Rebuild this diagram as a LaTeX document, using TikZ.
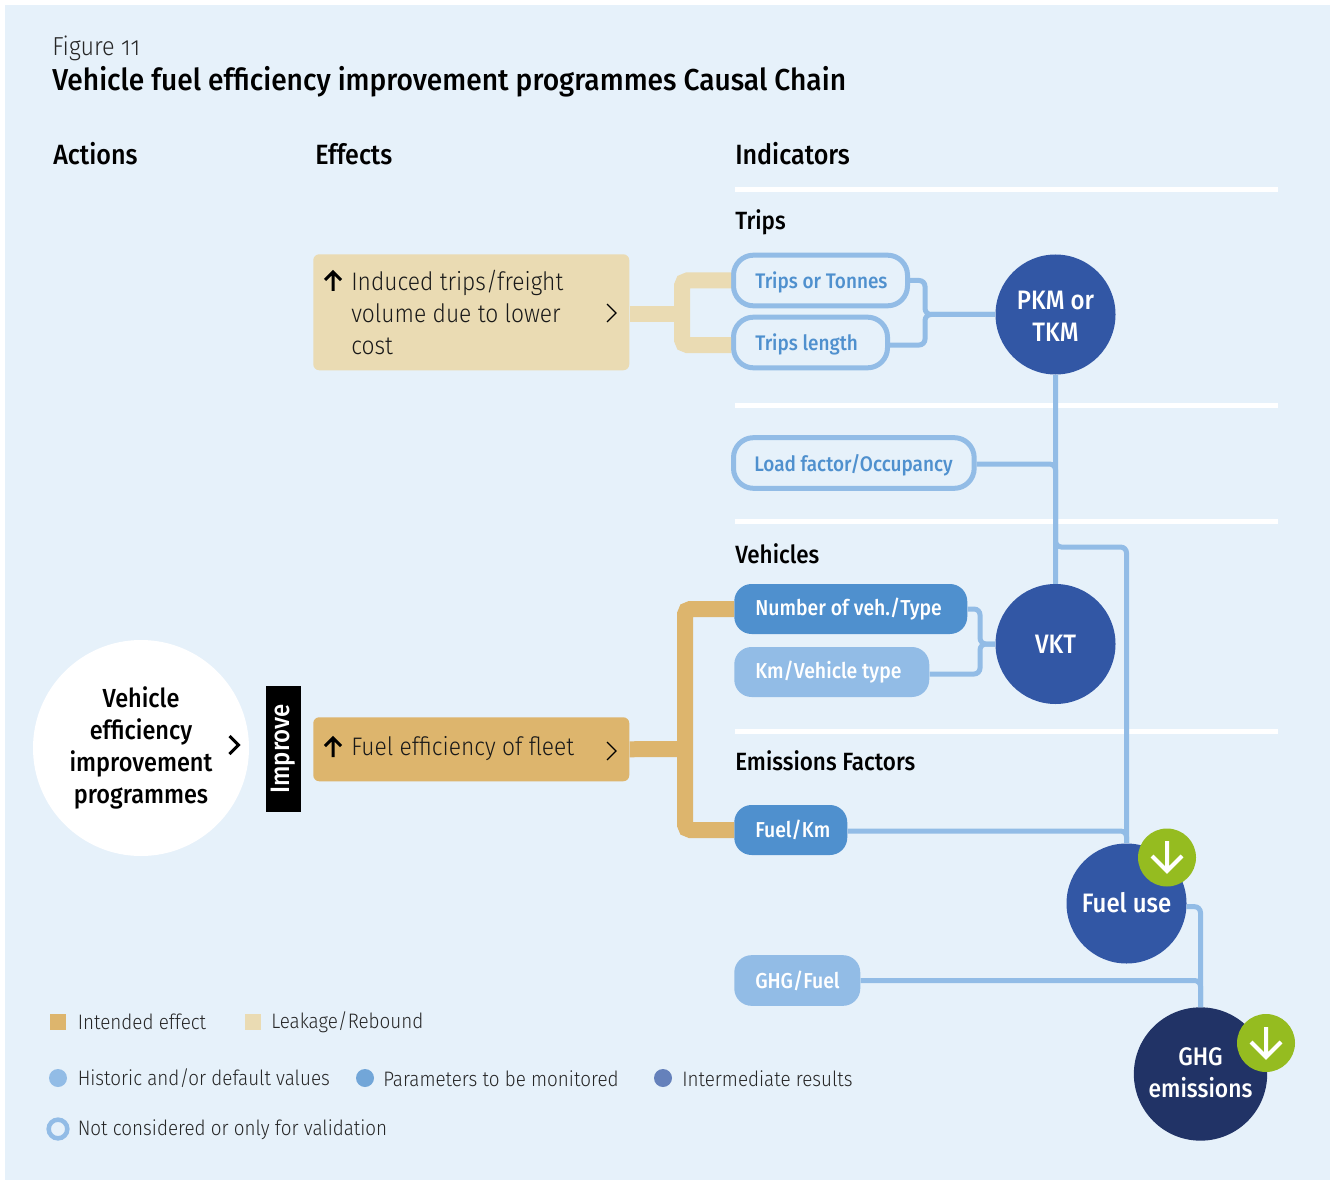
\documentclass[tikz,border=0pt]{standalone}
\usepackage{fontspec}
\setmainfont[FakeStretch=0.9,BoldFont={Fira Sans Medium}]{Fira Sans Light}
\newfontfamily\medf[FakeStretch=0.9]{Fira Sans Medium}
\newfontfamily\titlef[FakeStretch=0.93]{Fira Sans Medium}
\definecolor{bgc}{HTML}{E6F1FA}
\definecolor{lb}{HTML}{92BCE6}
\definecolor{mb}{HTML}{4F90CE}
\definecolor{db}{HTML}{3257A5}
\definecolor{nb}{HTML}{213366}
\definecolor{gold}{HTML}{DDB56D}
\definecolor{sand}{HTML}{EADBB3}
\definecolor{grn}{HTML}{95BC20}
\tikzset{
 x=0.75pt,y=-0.75pt,
 lbl/.style={anchor=west,inner sep=0,font=\medf\fontsize{18.7}{22}\selectfont,text=black},
 head/.style={anchor=west,inner sep=0,font=\medf\fontsize{20.9}{25}\selectfont,text=black},
 leg/.style={anchor=west,inner sep=0,font=\fontsize{15.7}{19}\selectfont,text=black!85},
 wline/.style={white,line width=3.75pt},
 pill/.style={draw=lb,line width=3.75pt,fill=bgc,rounded corners=15pt,anchor=west,inner sep=0},
 pilltext/.style={anchor=west,inner sep=0,text=mb,font=\medf\fontsize{15.8}{18}\selectfont},
 solidtext/.style={anchor=west,inner sep=0,text=white,font=\medf\fontsize{16.2}{18}\selectfont},
 solidm/.style={fill=mb,rounded corners=13pt,inner sep=0,anchor=west},
 solidl/.style={fill=lb,rounded corners=13pt,inner sep=0,anchor=west},
 effect/.style={rounded corners=4.5pt,inner sep=0},
 circ/.style={circle,inner sep=0,minimum size=90pt,fill=db},
 circtext/.style={inner sep=0,text=white,align=center,font=\medf\fontsize{20}{24}\selectfont},
 conn/.style={draw=lb,line width=3.75pt,rounded corners=4.5pt},
 band/.style={line width=12pt,rounded corners=4pt},
 badge/.style={circle,fill=grn,inner sep=0,minimum size=43.5pt},
 efftext/.style={anchor=west,inner sep=0,align=left,font=\fontsize{19}{24}\selectfont,text=black!90},
 chev/.style={draw=black,line width=1pt,line join=miter},
 upar/.style={draw=black,line width=2.25pt},
 downar/.style={draw=white,line width=3pt},
}
\begin{document}
\begin{tikzpicture}
\useasboundingbox (0,0) rectangle (1330,1180);
\fill[white] (0,0) rectangle (1330,1180);
\fill[bgc] (5,5) rectangle (1330,1180);
% texts
\node[anchor=west,inner sep=0,font=\fontsize{19.5}{22}\selectfont\addfontfeatures{Numbers=OldStyle},text=black!85] (figno) at (52,48) {Figure 11};
\node[anchor=west,inner sep=0,font=\titlef\fontsize{22.7}{26}\selectfont] (title) at (52,81.5) {Vehicle fuel efficiency improvement programmes Causal Chain};
\node[head] (actions) at (53,154) {Actions};
\node[head] (effects) at (315,154) {Effects};
\node[head] (indic) at (735,154) {Indicators};
\node[lbl] (trips) at (735,222) {Trips};
\node[lbl] (vehs) at (735,554) {Vehicles};
\node[lbl] (emis) at (735,761) {Emissions Factors};
% separators
\draw[wline] (735,190) -- (1278,190);
\draw[wline] (735,405) -- (1278,405);
\draw[wline] (735,521) -- (1278,521);
\draw[wline] (735,731) -- (1278,731);
% action
\node[circle,fill=white,minimum size=162pt,inner sep=0,align=center,font=\medf\fontsize{19.6}{24}\selectfont] (act) at (141,748) {Vehicle\\efficiency\\improvement\\programmes};
\draw[black,line width=2.25pt] (229.5,736) -- (238.5,745) -- (229.5,754);
\node[fill=black,text=white,rotate=90,minimum width=94.5pt,minimum height=26.25pt,inner sep=0,font=\medf\fontsize{20}{22}\selectfont] (imp) at (283.5,749) {Improve};
% effects
\node[effect,fill=sand,anchor=north west,minimum width=237pt,minimum height=87pt] (ind) at (313,254) {};
\node[effect,fill=gold,anchor=north west,minimum width=237pt,minimum height=48pt] (fe) at (313,717) {};
\node[efftext] (indt) at (351,312.5) {Induced trips/freight\\volume due to lower\\cost};
\node[efftext] (fet) at (351,748.5) {Fuel efficiency of fleet};
\draw[upar] (333,291) -- (333,272) (325,280) -- (333,272) -- (341,280);
\draw[upar] (333,757) -- (333,738) (325,746) -- (333,738) -- (341,746);
\draw[chev] (607,304) -- (616,313) -- (607,322);
\draw[chev] (607,742) -- (616,751) -- (607,760);
% indicators
\node[pill,minimum width=130.5pt,minimum height=38pt] (tt) at (731,280.5) {};
\node[pill,minimum width=115.5pt,minimum height=38pt] (tl) at (731,342.5) {};
\node[pill,minimum width=180.5pt,minimum height=38pt] (lf) at (731,463) {};
\node[pilltext] (ttt) at (755,282) {Trips or Tonnes};
\node[pilltext] (tlt) at (755,344) {Trips length};
\node[pilltext] (lft) at (754,465) {Load factor/Occupancy};
\node[solidm,minimum width=174.75pt,minimum height=37.5pt] (nv) at (734,609) {};
\node[solidl,minimum width=146.25pt,minimum height=37.5pt] (km) at (734,672) {};
\node[solidm,minimum width=84.75pt,minimum height=37.5pt] (fk) at (734,830) {};
\node[solidl,minimum width=94.5pt,minimum height=38pt] (gf) at (734,980.5) {};
\node[solidtext] (nvt) at (755,609) {Number of veh./Type};
\node[solidtext] (kmt) at (755,672) {Km/Vehicle type};
\node[solidtext] (fkt) at (755,829.5) {Fuel/Km};
\node[solidtext] (gft) at (755,980.5) {GHG/Fuel};
\node[circ] (pkm) at (1055.5,314.5) {};
\node[circ] (vkt) at (1055.5,644) {};
\node[circ] (fuel) at (1126.5,903.5) {};
\node[circ,fill=nb,minimum size=100pt] (ghg) at (1200.5,1074) {};
\node[circtext] (pkmt) at (1055.5,316.5) {PKM or\\TKM};
\node[circtext] (vktt) at (1055.5,644) {VKT};
\node[circtext] (fuelt) at (1126.5,903) {Fuel use};
\node[circtext,font=\medf\fontsize{19}{24}\selectfont] (ghgt) at (1200.5,1072.5) {GHG\\emissions};
% connectors
\coordinate (j1) at (925,314.5);
\coordinate (j2) at (1055.5,464);
\coordinate (j3) at (1055.5,547);
\coordinate (j3b) at (1126.5,547);
\coordinate (j4) at (980,644);
\coordinate (j5) at (1126.5,831);
\coordinate (j6) at (1200.5,980.5);
\coordinate (b1) at (682,314);
\coordinate (b2) at (685,749);
\draw[conn] (tt.east) -| (j1) -- (pkm.west);
\draw[conn] ([yshift=-1.9pt]tl.east) -| (j1) -- (pkm.west);
\draw[conn] (pkm.south) -- (vkt.north);
\draw[conn] ([yshift=-0.75pt]lf.east) -- (j2) -- (vkt.north);
\draw[conn] (pkm.south) -- (j3) -- (j3b) -- (fuel.north);
\draw[conn] (nv.east) -| (j4) -- (vkt.west);
\draw[conn] ([yshift=-1.5pt]km.east) -| (j4) -- (vkt.west);
\draw[conn] (fk.east) ++(0,1) -- (j5) -- (fuel.north);
\draw[conn] (fuel.-3) -| (ghg.north);
\draw[conn] (gf.east) -- (j6) -- (ghg.north);
\draw[band,draw=sand] (tt.west) -| (b1) |- ([yshift=-1.9pt]tl.west);
\draw[band,draw=sand,rounded corners=0] (ind.east |- b1) -- (b1);
\draw[band,draw=gold] (nv.west) -| (b2) |- (fk.west);
\draw[band,draw=gold,rounded corners=0] (fe.east) -- (b2);
% badges
\node[badge] (bg1) at (1167,857.5) {};
\node[badge] (bg2) at (1266,1043) {};
\draw[downar] (1167,841) -- (1167,871) (1152,856) -- (1167,871) -- (1182,856);
\draw[downar] (1266,1027) -- (1266,1057) (1251,1042) -- (1266,1057) -- (1281,1042);
% legend
\fill[gold] (50,1014) rectangle (66,1030);
\fill[sand] (245,1014) rectangle (261,1030);
\fill[lb] (58,1078) circle (6.75pt);
\fill[mb!80!white] (365,1078) circle (6.75pt);
\fill[db!75!white] (663,1078) circle (6.75pt);
\draw[lb,line width=3.4pt] (58,1129) circle (7pt);
\node[leg] (l1) at (77.5,1022) {Intended effect};
\node[leg] (l2) at (271,1022) {Leakage/Rebound};
\node[leg] (l3) at (77.5,1078.5) {Historic and/or default values};
\node[leg] (l4) at (383,1078.5) {Parameters to be monitored};
\node[leg] (l5) at (682,1078.5) {Intermediate results};
\node[leg] (l6) at (77.5,1129.5) {Not considered or only for validation};
\end{tikzpicture}
\end{document}
